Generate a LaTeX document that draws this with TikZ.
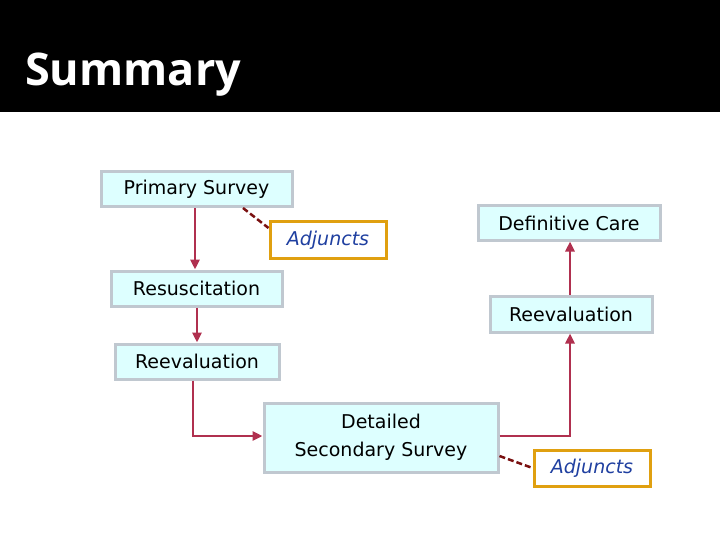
\documentclass[tikz,border=0pt]{standalone}
\usepackage{fontspec}
\setmainfont{DejaVu Sans}
\newfontfamily\titlefont{Open Sans}
\usetikzlibrary{arrows.meta}
\definecolor{boxfill}{HTML}{DDFFFF}
\definecolor{boxline}{HTML}{C0C8D0}
\definecolor{conn}{HTML}{B0304F}
\definecolor{adjline}{HTML}{E0A010}
\definecolor{adjtext}{HTML}{1F3FA0}
\definecolor{dashred}{HTML}{7A1010}
\begin{document}
\begin{tikzpicture}[x=1pt,y=-1pt,
 sbox/.style={draw=boxline,line width=3pt,fill=boxfill,inner sep=0pt,font=\fontsize{19}{28}\selectfont,align=center},
 abox/.style={draw=adjline,line width=3pt,fill=white,inner sep=0pt,font=\fontsize{19}{24}\selectfont\itshape,text=adjtext},
 link/.style={conn,line width=2.5pt,-{Triangle[length=10pt,width=9pt]}},
 dlink/.style={draw=dashred,line width=2.5pt,dash pattern=on 6pt off 3pt}]
\useasboundingbox (0,0) rectangle (720,540);
\fill[black] (0,0) rectangle (720,112);
\node[anchor=base west,text=white,font=\titlefont\bfseries\fontsize{45}{50}\selectfont,inner sep=0pt] (title) at (25,86) {Summary};
\node[sbox,minimum width=191pt,minimum height=35pt] (ps) at (196.5,189.5) {Primary Survey};
\node[abox,minimum width=116pt,minimum height=36pt] (adj1) at (328,240) {Adjuncts};
\node[sbox,minimum width=182pt,minimum height=34pt] (dc) at (569,223) {Definitive Care};
\node[sbox,minimum width=171pt,minimum height=35pt] (res) at (196.5,288.5) {Resuscitation};
\node[sbox,minimum width=162pt,minimum height=36pt] (rr) at (571,314) {Reevaluation};
\node[sbox,minimum width=164pt,minimum height=35pt] (rl) at (197,361.5) {Reevaluation};
\node[sbox,minimum width=234pt,minimum height=69pt] (dss) at (381,437.5) {Detailed\\Secondary Survey};
\node[abox,minimum width=116pt,minimum height=36pt] (adj2) at (592,468) {Adjuncts};
\coordinate (c1) at (193,436);
\coordinate (c2) at (570,436);
\draw[link] (ps.south -| 195,0) -- (res.north -| 195,0);
\draw[link] (res.south -| 197,0) -- (rl.north -| 197,0);
\draw[link] (rl.south -| c1) -- (c1) -- (dss.west |- c1);
\draw[link] (dss.east |- c2) -- (c2) -- (rr.south -| c2);
\draw[link] (rr.north -| c2) -- (dc.south -| c2);
\draw[dlink] (243,208) -- (adj1.west |- 0,228);
\draw[dlink] (dss.east |- 0,456) -- (adj2.west |- 0,468);
\end{tikzpicture}
\end{document}
